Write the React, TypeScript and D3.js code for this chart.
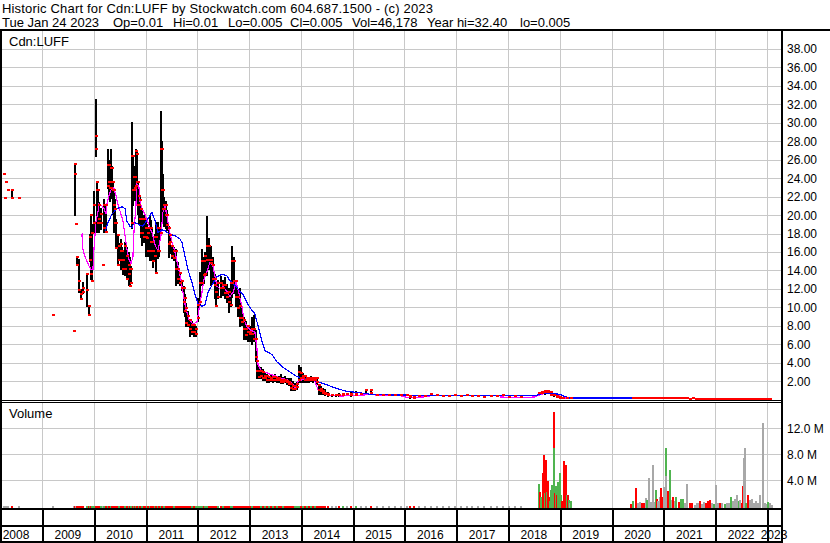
import React from "react";
import * as d3 from "d3";

// ---------- header text ----------
const titleText = "Historic Chart for Cdn:LUFF by Stockwatch.com 604.687.1500 - (c) 2023";
const infoItems = ["Tue Jan 24 2023", "Op=0.01", "Hi=0.01", "Lo=0.005", "Cl=0.005", "Vol=46,178", "Year hi=32.40", "lo=0.005"];
const infoX = [2, 113, 173, 228, 290, 352, 427, 520];
const symbolLabel = "Cdn:LUFF";
const volumeLabel = "Volume";

// ---------- axis ticks ----------
const priceTicks = [2, 4, 6, 8, 10, 12, 14, 16, 18, 20, 22, 24, 26, 28, 30, 32, 34, 36, 38];
const volumeTicks = [4, 8, 12];
const volumeTickLabels = ["4.0 M", "8.0 M", "12.0 M"];
const yearLabels = [2008, 2009, 2010, 2011, 2012, 2013, 2014, 2015, 2016, 2017, 2018, 2019, 2020, 2021, 2022, 2023];

// ---------- price bars (week index since 2008-01-01) ----------
const barWeek = [
  13, 14, 15, 17, 21, 28, 62, 84, 85, 86,
  87, 89, 91, 93, 97, 99, 100, 101, 102, 104,
  106, 107, 108, 109, 111, 113, 114, 116, 118, 119,
  120, 121, 122, 123, 124, 125, 126, 128, 129, 131,
  132, 133, 135, 137, 139, 140, 141, 142, 143, 144,
  145, 146, 147, 148, 149, 150, 151, 152, 154, 156,
  157, 158, 160, 161, 162, 163, 165, 166, 168, 169,
  171, 172, 173, 174, 176, 177, 179, 180, 182, 184,
  186, 188, 190, 192, 194, 195, 196, 198, 200, 202,
  204, 206, 208, 210, 212, 214, 216, 218, 220, 222,
  224, 226, 227, 229, 232, 234, 236, 238, 240, 242,
  243, 245, 247, 249, 251, 253, 255, 257, 259, 261,
  263, 265, 267, 268, 270, 272, 274, 276, 278, 280,
  282, 284, 286, 288, 290, 292, 294, 296, 298, 300,
  302, 304, 306, 308, 310, 312, 314, 316, 318, 320,
  322, 324, 326, 328, 330, 332, 334, 336, 339, 343,
  347, 351, 355, 359, 363, 368, 373, 378, 383, 389,
  395, 401, 407, 413, 419, 422, 426, 431, 437, 443,
  449, 455, 461, 467, 473, 479, 485, 491, 497, 504,
  510, 516, 522, 528, 534, 552, 555, 558, 561, 564,
  567, 570, 573, 576, 580, 584,
];
const barHigh = [
  24.3, 21.7, 23.5, 22.6, 22.6, 21.7, 9.05, 7.3, 25.4, 18.9,
  15.4, 15.2, 12.0, 12.7, 13.6, 10.0, 18.0, 19.9, 19.0, 22.6,
  32.6, 23.5, 22.6, 21.4, 20.8, 14.5, 21.7, 21.2, 27.2, 26.0,
  24.0, 27.2, 25.3, 23.5, 22.8, 21.7, 19.6, 17.7, 17.0, 17.4,
  16.5, 16.0, 17.1, 16.5, 16.0, 15.5, 14.5, 30.1, 26.5, 25.3,
  25.0, 27.2, 26.8, 23.5, 22.8, 22.0, 21.0, 20.5, 20.0, 19.6,
  19.0, 18.5, 20.0, 19.5, 18.5, 17.5, 18.0, 19.2, 19.2, 18.5,
  31.3, 28.0, 24.5, 22.0, 21.5, 20.5, 18.8, 18.0, 16.7, 16.5,
  16.3, 14.9, 13.6, 13.0, 12.3, 11.5, 10.5, 9.6, 8.7, 8.5,
  8.2, 8.0, 11.0, 13.8, 16.3, 15.5, 16.0, 19.9, 17.5, 16.7,
  15.5, 13.6, 12.5, 13.0, 13.4, 13.0, 13.3, 12.5, 12.1, 13.0,
  16.6, 15.5, 13.0, 12.0, 12.1, 10.0, 9.0, 8.5, 8.1, 8.0,
  9.0, 9.2, 7.5, 4.1, 3.5, 3.5, 3.3, 3.0, 2.8, 2.6,
  2.8, 2.7, 2.8, 2.6, 2.6, 2.8, 2.5, 2.6, 2.4, 2.3,
  2.4, 2.0, 1.8, 1.9, 3.8, 3.5, 2.9, 2.6, 2.5, 2.4,
  2.6, 2.5, 2.4, 2.3, 1.6, 1.5, 1.3, 1.2, 0.8, 0.6,
  0.6, 0.7, 0.7, 0.7, 0.9, 0.9, 0.7, 0.9, 0.9, 0.45,
  0.43, 0.43, 0.45, 0.43, 0.43, 0.35, 0.2, 0.3, 0.25, 0.5,
  0.45, 0.3, 0.25, 0.35, 0.3, 0.4, 0.3, 0.25, 0.2, 0.25,
  0.3, 0.35, 0.2, 0.3, 0.15, 0.6, 0.8, 1.1, 0.9, 0.7,
  0.5, 0.3, 0.2, 0.1, 0.08, 0.06,
];
const barLow = [
  24.3, 21.7, 23.5, 22.6, 21.7, 21.7, 9.05, 7.3, 19.9, 18.9,
  14.5, 11.6, 10.8, 11.5, 10.0, 9.05, 14.9, 13.0, 12.7, 18.1,
  26.3, 18.1, 18.1, 18.1, 18.4, 14.5, 18.1, 18.1, 22.8, 22.0,
  21.4, 21.7, 22.5, 20.0, 18.1, 18.1, 16.3, 14.5, 15.0, 14.1,
  14.5, 13.5, 13.4, 13.0, 12.3, 12.2, 12.5, 18.5, 21.0, 22.0,
  21.5, 22.8, 22.5, 20.0, 19.0, 19.2, 17.5, 16.7, 17.0, 15.5,
  16.0, 15.5, 15.0, 15.5, 15.0, 14.3, 15.0, 13.6, 15.2, 15.5,
  17.7, 19.5, 19.0, 18.7, 18.5, 18.3, 15.4, 15.8, 15.2, 15.0,
  12.3, 12.5, 12.3, 11.8, 9.4, 9.0, 7.9, 7.9, 6.8, 7.0,
  6.8, 6.8, 8.4, 10.1, 12.3, 12.5, 13.4, 13.4, 14.0, 12.3,
  12.5, 10.9, 10.0, 10.9, 11.0, 11.2, 10.9, 10.5, 9.4, 10.0,
  11.0, 11.5, 10.0, 9.0, 7.9, 8.0, 6.5, 6.5, 6.2, 6.3,
  5.9, 6.2, 4.1, 2.2, 2.2, 2.2, 2.0, 2.0, 1.8, 1.8,
  1.9, 1.8, 1.9, 1.8, 1.8, 1.7, 1.7, 1.8, 1.6, 1.5,
  0.9, 0.9, 0.9, 1.0, 1.8, 1.8, 1.8, 1.8, 1.8, 1.8,
  1.9, 1.8, 1.9, 1.6, 0.5, 0.5, 0.5, 0.4, 0.3, 0.3,
  0.3, 0.3, 0.4, 0.4, 0.3, 0.4, 0.4, 0.5, 0.5, 0.45,
  0.43, 0.43, 0.45, 0.43, 0.43, 0.1, 0.1, 0.3, 0.25, 0.5,
  0.45, 0.3, 0.25, 0.35, 0.3, 0.4, 0.3, 0.25, 0.2, 0.25,
  0.3, 0.35, 0.2, 0.3, 0.15, 0.6, 0.5, 0.5, 0.6, 0.4,
  0.3, 0.15, 0.1, 0.1, 0.08, 0.06,
];
const barOpen = [
  24.3, 21.7, 23.5, 22.6, 22.6, 21.7, 9.05, 7.3, 25.4, 18.9,
  15.4, 12.7, 11.3, 12.0, 11.8, 10.0, 15.0, 19.9, 12.7, 19.0,
  28.5, 23.5, 22.6, 21.0, 19.0, 14.5, 18.5, 21.0, 23.0, 25.3,
  23.5, 22.8, 25.0, 23.5, 22.6, 20.6, 19.0, 17.7, 15.0, 16.8,
  16.0, 15.0, 14.0, 15.5, 13.5, 14.0, 12.5, 19.0, 26.3, 22.6,
  24.0, 23.0, 26.5, 23.5, 21.0, 21.5, 20.5, 18.0, 19.5, 18.5,
  17.4, 18.0, 16.0, 18.5, 17.0, 16.0, 15.5, 17.5, 16.0, 18.5,
  18.0, 27.0, 22.6, 20.5, 21.0, 19.9, 18.5, 17.7, 16.5, 15.2,
  16.0, 14.0, 13.6, 12.7, 12.0, 10.9, 9.8, 9.0, 8.5, 7.2,
  8.0, 7.0, 8.7, 10.5, 12.5, 14.9, 13.5, 15.0, 16.5, 15.0,
  14.5, 13.0, 11.6, 11.0, 12.5, 12.0, 12.3, 11.5, 11.6, 10.1,
  12.5, 14.9, 12.7, 11.0, 10.0, 8.7, 8.5, 7.6, 7.9, 7.2,
  7.0, 7.6, 6.5, 4.1, 3.0, 2.5, 2.9, 2.2, 2.5, 2.0,
  2.2, 2.0, 2.3, 2.0, 2.2, 2.0, 1.8, 2.0, 1.9, 1.8,
  1.6, 1.4, 1.1, 1.3, 2.0, 2.8, 2.2, 2.5, 2.0, 2.2,
  2.0, 2.2, 2.0, 2.2, 1.5, 1.1, 0.8, 0.6, 0.5, 0.4,
  0.4, 0.45, 0.4, 0.5, 0.5, 0.45, 0.5, 0.9, 0.9, 0.45,
  0.43, 0.43, 0.45, 0.43, 0.43, 0.3, 0.2, 0.3, 0.25, 0.5,
  0.45, 0.3, 0.25, 0.35, 0.3, 0.4, 0.3, 0.25, 0.2, 0.25,
  0.3, 0.35, 0.2, 0.3, 0.15, 0.6, 0.6, 0.7, 0.8, 0.7,
  0.45, 0.3, 0.2, 0.1, 0.08, 0.06,
];
const barClose = [
  24.3, 21.7, 23.5, 22.6, 21.7, 21.7, 9.05, 7.3, 24.3, 18.9,
  14.5, 11.8, 10.8, 11.6, 13.5, 9.05, 17.5, 13.5, 18.0, 21.0,
  27.1, 22.6, 19.0, 19.5, 20.0, 14.5, 21.0, 18.1, 25.3, 23.5,
  22.8, 25.0, 23.5, 22.6, 21.0, 19.0, 16.3, 14.5, 16.5, 16.0,
  15.0, 14.0, 16.5, 13.0, 14.5, 12.2, 14.0, 26.3, 22.6, 24.0,
  22.8, 26.8, 23.5, 21.0, 22.0, 19.5, 18.0, 19.5, 17.5, 17.5,
  18.5, 16.0, 18.5, 17.0, 16.0, 14.9, 17.5, 13.6, 18.5, 16.0,
  27.0, 22.6, 20.5, 21.0, 19.9, 18.8, 16.8, 17.0, 15.5, 16.0,
  14.0, 13.0, 12.5, 12.0, 10.5, 9.5, 8.2, 8.0, 7.5, 8.0,
  7.2, 7.6, 10.1, 12.5, 14.9, 13.4, 15.5, 16.5, 15.0, 14.7,
  13.0, 12.3, 10.0, 12.5, 12.0, 12.3, 11.5, 11.0, 10.5, 12.5,
  14.9, 12.7, 11.0, 9.8, 8.7, 8.3, 7.5, 6.9, 7.2, 7.0,
  7.6, 6.5, 4.5, 3.0, 2.4, 3.0, 2.2, 2.5, 2.0, 2.3,
  2.0, 2.4, 2.0, 2.2, 2.0, 1.8, 2.0, 1.9, 1.8, 1.6,
  1.2, 1.0, 1.4, 1.6, 2.9, 2.2, 2.5, 2.0, 2.2, 2.0,
  2.2, 2.0, 2.2, 1.8, 0.9, 0.8, 0.6, 0.5, 0.4, 0.4,
  0.4, 0.4, 0.5, 0.5, 0.45, 0.5, 0.5, 0.9, 0.6, 0.45,
  0.43, 0.43, 0.45, 0.43, 0.43, 0.15, 0.1, 0.3, 0.25, 0.5,
  0.45, 0.3, 0.25, 0.35, 0.3, 0.4, 0.3, 0.25, 0.2, 0.25,
  0.3, 0.35, 0.2, 0.3, 0.15, 0.6, 0.75, 0.8, 0.7, 0.45,
  0.35, 0.2, 0.12, 0.1, 0.08, 0.06,
];
// volume (millions) traded with each of the bars above
const barVolume = [
  0.05, 0.05, 0.05, 0.05, 0.08, 0.05, 0.05, 0.05, 0.1, 0.05,
  0.08, 0.1, 0.08, 0.06, 0.1, 0.08, 0.1, 0.1, 0.08, 0.1,
  0.12, 0.1, 0.08, 0.06, 0.08, 0.05, 0.08, 0.08, 0.12, 0.1,
  0.08, 0.1, 0.08, 0.06, 0.08, 0.06, 0.1, 0.08, 0.06, 0.06,
  0.05, 0.06, 0.08, 0.06, 0.05, 0.06, 0.05, 0.12, 0.1, 0.08,
  0.06, 0.08, 0.08, 0.06, 0.05, 0.06, 0.08, 0.06, 0.05, 0.06,
  0.05, 0.06, 0.08, 0.06, 0.05, 0.06, 0.05, 0.08, 0.06, 0.05,
  0.12, 0.1, 0.08, 0.06, 0.05, 0.06, 0.08, 0.05, 0.05, 0.06,
  0.08, 0.06, 0.05, 0.06, 0.08, 0.06, 0.08, 0.06, 0.08, 0.06,
  0.05, 0.06, 0.08, 0.1, 0.1, 0.08, 0.06, 0.1, 0.08, 0.06,
  0.06, 0.08, 0.06, 0.05, 0.06, 0.05, 0.06, 0.05, 0.06, 0.08,
  0.1, 0.08, 0.06, 0.06, 0.08, 0.05, 0.06, 0.05, 0.06, 0.05,
  0.06, 0.08, 0.1, 0.1, 0.08, 0.06, 0.06, 0.05, 0.06, 0.05,
  0.05, 0.06, 0.05, 0.05, 0.05, 0.06, 0.05, 0.05, 0.05, 0.06,
  0.08, 0.06, 0.05, 0.05, 0.1, 0.08, 0.06, 0.05, 0.05, 0.05,
  0.05, 0.05, 0.05, 0.05, 0.08, 0.06, 0.05, 0.05, 0.05, 0.05,
  0.05, 0.05, 0.05, 0.05, 0.06, 0.05, 0.05, 0.05, 0.05, 0.04,
  0.04, 0.04, 0.04, 0.04, 0.04, 0.05, 0.04, 0.04, 0.04, 0.04,
  0.04, 0.04, 0.04, 0.04, 0.04, 0.04, 0.04, 0.04, 0.04, 0.04,
  0.04, 0.04, 0.04, 0.04, 0.04, 0, 0, 0, 0, 0,
  0, 0, 0, 0, 0, 0,
];

// ---------- 2020-2023 trades (close only) ----------
const lateWeek = [
  647, 650, 653, 656, 659, 662, 665, 668, 671, 674,
  677, 680, 683, 686, 689, 692, 695, 698, 701, 704,
  707, 710, 713, 716, 719, 722, 725, 728, 731, 734,
  737, 740, 743, 746, 749, 752, 755, 758, 761, 764,
  767, 770, 773, 776, 779, 782, 785,
];
const latePrice = [
  0.06, 0.05, 0.06, 0.05, 0.05, 0.05, 0.04, 0.05, 0.04, 0.04,
  0.04, 0.04, 0.03, 0.04, 0.03, 0.03, 0.03, 0.03, 0.03, 0.02,
  0.03, 0.02, 0.02, 0.02, 0.02, 0.02, 0.02, 0.02, 0.015, 0.015,
  0.02, 0.015, 0.015, 0.01, 0.015, 0.01, 0.01, 0.01, 0.01, 0.01,
  0.01, 0.01, 0.01, 0.005, 0.01, 0.005, 0.005,
];

// ---------- heavy volume periods (millions; u = up, d = down, n = unchanged) ----------
const volWeek = [
  552, 553, 554, 556, 557, 558, 559, 560, 561, 562,
  563, 564, 565, 567, 567, 568, 569, 570, 571, 573,
  574, 575, 577, 579, 580, 581, 582, 583, 584,
  645, 647, 650, 652, 654, 656, 658, 660, 661, 663,
  665, 667, 668, 670, 671, 672, 674, 675, 676, 678,
  680, 680, 682, 684, 686, 687, 689, 690, 693, 695,
  697, 699, 701, 704, 706, 709, 711, 713, 714, 716,
  718, 720, 722, 724, 726, 728, 730, 732, 734, 736,
  739, 741, 743, 745, 747, 749, 751, 753, 755, 757,
  758, 759, 760, 761, 763, 765, 767, 769, 771, 773,
  775, 778, 780, 782, 783, 785, 787,
];
const volValue = [
  3.4, 2.2, 1.5, 5.1, 7.9, 2.0, 7.2, 2.2, 3.9, 1.5,
  0.8, 2.6, 3.3, 14.5, 9.0, 2.0, 3.2, 1.8, 3.8, 5.2,
  1.8, 0.9, 7.0, 6.4, 1.8, 1.8, 1.0, 0.6, 0.9,
  0.45, 0.9, 2.9, 0.6, 0.7, 0.5, 0.5, 1.3, 1.0, 4.3,
  0.7, 6.4, 0.7, 2.5, 1.2, 0.8, 1.5, 2.9, 1.4, 3.0,
  9.0, 4.7, 2.4, 5.6, 1.0, 1.5, 0.8, 1.5, 0.7, 1.2,
  1.2, 0.5, 3.4, 0.5, 0.5, 0.3, 0.5, 0.5, 0.9, 0.4,
  0.7, 0.6, 0.8, 1.0, 0.5, 0.4, 3.3, 0.6, 0.5, 0.6,
  0.4, 0.5, 0.6, 1.5, 0.9, 1.1, 1.8, 0.8, 1.0, 0.6,
  3.2, 7.4, 9.0, 0.6, 1.8, 1.0, 1.1, 0.5, 0.9, 0.6,
  1.8, 12.8, 0.5, 0.4, 0.7, 0.5, 0.3,
];
const volColor = [
  "u", "d", "u", "d", "d", "u", "d", "u", "d", "d",
  "u", "u", "u", "d", "u", "d", "u", "d", "u", "u",
  "u", "d", "d", "d", "u", "d", "u", "n", "u",
  "d", "u", "d", "n", "n", "d", "d", "n", "u", "n",
  "n", "n", "n", "u", "d", "n", "n", "d", "d", "n",
  "u", "n", "d", "u", "n", "d", "n", "u", "d", "u",
  "u", "n", "n", "d", "d", "n", "n", "n", "d", "n",
  "n", "d", "d", "d", "n", "u", "n", "n", "d", "n",
  "u", "n", "n", "u", "n", "n", "n", "u", "n", "d",
  "d", "n", "n", "u", "d", "n", "n", "n", "n", "n",
  "n", "n", "n", "n", "u", "n", "n",
];

// ---------- moving averages ----------
const maShortWeek = [
  92.5, 93.5, 95.5, 97.6, 99.6, 101.6, 103.6, 104.6, 106.6, 108.6,
  109.7, 112.7, 114.7, 116.7, 117.7, 119.7, 122.8, 124.8, 126.8, 128.8,
  131.8, 133.8, 135.9, 137.9, 139.9, 141.9, 143.9, 144.9, 146.9, 147.9,
  150.0, 151.0, 153.0, 156.0, 159.0, 163.1, 166.1, 169.1, 172.1, 174.1,
  176.2, 178.2, 180.2, 183.2, 186.2, 189.3, 192.3, 194.3, 197.3, 200.3,
  204.4, 208.4, 210.4, 213.4, 215.5, 218.5, 221.5, 224.5, 226.5, 228.5,
  231.6, 234.6, 238.6, 241.6, 244.7, 247.7, 249.7, 253.7, 255.8, 258.8,
  261.8, 264.8, 266.8, 268.9, 269.9, 273.9, 278.9, 284.0, 289.0, 294.0,
  299.1, 304.1, 307.1, 310.2, 315.2, 322.3, 327.3, 330.3, 335.4, 342.4,
  352.5, 372.6, 382.7, 392.8, 412.9, 423.0, 443.2, 473.4, 513.7, 533.9,
  549.0, 552.0, 559.0, 566.1, 572.1, 579.2, 586.2,
  646.7, 715.2, 787.8,
];
const maShortValue = [
  18.0, 16.3, 15.5, 15.0, 14.5, 14.1, 14.1, 16.3, 19.2, 20.3,
  21.2, 21.0, 20.7, 20.1, 21.2, 22.1, 23.0, 22.9, 22.1, 21.2,
  20.1, 19.4, 17.8, 16.3, 15.2, 14.7, 15.5, 18.1, 21.0, 23.4,
  23.0, 21.5, 20.7, 20.1, 19.2, 18.1, 16.8, 16.1, 17.8, 20.3,
  21.0, 19.9, 18.5, 17.1, 16.0, 14.5, 13.0, 11.6, 9.8, 8.7,
  8.2, 8.4, 9.8, 11.6, 13.0, 13.9, 14.9, 14.5, 13.4, 12.3,
  12.0, 12.3, 11.7, 11.2, 11.6, 12.7, 12.0, 10.1, 8.7, 7.9,
  7.6, 7.4, 7.3, 5.5, 3.8, 3.0, 2.9, 2.7, 2.5, 2.3,
  2.2, 1.8, 1.3, 2.0, 2.2, 2.2, 2.0, 1.1, 0.8, 0.5,
  0.4, 0.45, 0.6, 0.45, 0.43, 0.2, 0.35, 0.3, 0.3, 0.2,
  0.3, 0.45, 0.72, 0.68, 0.45, 0.18, 0.1,
  0.05, 0.03, 0.01,
];
const maLongWeek = [
  115.7, 118.7, 122.8, 127.8, 132.8, 135.9, 137.9, 140.9, 142.9, 144.9,
  147.9, 151.0, 154.0, 159.0, 163.1, 166.1, 169.1, 173.1, 176.2, 181.2,
  186.2, 191.3, 193.3, 196.3, 199.3, 203.4, 206.4, 209.4, 213.4, 216.5,
  219.5, 223.5, 228.5, 233.6, 238.6, 241.6, 246.7, 249.7, 254.7, 259.8,
  263.8, 266.8, 269.9, 273.9, 276.9, 284.0, 289.0, 295.1, 302.1, 309.2,
  319.2, 329.3, 339.4, 349.5, 359.5, 372.6, 385.7, 412.9, 463.3, 513.7,
  550.0, 553.0, 561.1, 573.2, 579.2, 584.2, 652.7,
];
const maLongValue = [
  18.1, 19.2, 20.1, 20.7, 20.9, 20.7, 19.3, 18.8, 18.6, 19.2,
  19.1, 18.9, 18.8, 19.6, 20.3, 19.4, 18.1, 18.4, 18.3, 17.9,
  17.8, 17.4, 17.0, 15.6, 14.1, 12.7, 11.4, 10.4, 10.1, 10.3,
  11.6, 12.4, 13.3, 13.6, 13.4, 12.9, 12.4, 12.0, 11.4, 10.3,
  9.7, 9.3, 8.0, 6.3, 5.3, 4.9, 4.1, 3.5, 3.0, 2.5,
  2.2, 2.0, 1.6, 1.2, 0.9, 0.75, 0.55, 0.5, 0.48, 0.45,
  0.42, 0.62, 0.65, 0.6, 0.35, 0.18, 0.18,
];

const FONT = '"Liberation Sans", Arial, Helvetica, sans-serif';
const W = 830;
const H = 543;
const PLOT_L = 2;
const PLOT_R = 781;

export default function App() {
  const origin = new Date(2008, 0, 1).getTime();
  const x = d3.scaleTime().domain([new Date(2009, 0, 1), new Date(2023, 0, 1)]).range([42, 767]);
  const wx = (w: number) => x(new Date(origin + w * 7 * 86400000));
  const yP = d3.scaleLinear().domain([0, 38]).range([399.7, 48.9]);
  const yV = d3.scaleLinear().domain([0, 12]).range([506.5, 428.3]);
  const VOL_BASE = 508;

  const gridYears = d3.range(2009, 2024).map((y) => Math.round(x(new Date(y, 0, 1))));

  const bars = barWeek.map((w, i) => ({
    w,
    h: barHigh[i],
    l: barLow[i],
    o: barOpen[i],
    c: barClose[i],
    v: barVolume[i],
  }));

  const lineFor = (ws: number[], vs: number[], gap: number) => {
    const pts = ws.map((w, i) => [w, vs[i]] as [number, number]);
    const segs: [number, number][][] = [];
    let cur: [number, number][] = [];
    pts.forEach((p, i) => {
      if (i > 0 && p[0] - pts[i - 1][0] > gap) {
        segs.push(cur);
        cur = [];
      }
      cur.push(p);
    });
    segs.push(cur);
    const gen = d3.line<[number, number]>().x((d) => wx(d[0])).y((d) => yP(d[1]));
    return segs.map((s) => gen(s) || "").join(" ");
  };
  const magentaPath = lineFor(maShortWeek, maShortValue, 30);
  const bluePath = lineFor(maLongWeek, maLongValue, 1000);

  const colorOf = (code: string) => (code === "u" ? "#50b450" : code === "d" ? "#ff0000" : "#a8a8a8");

  const redMarks: { x: number; y: number }[] = [];
  bars.forEach((b) => {
    const X = Math.round(wx(b.w));
    redMarks.push({ x: X, y: Math.round(yP(b.o)) });
    if (b.c !== b.o) redMarks.push({ x: X, y: Math.round(yP(b.c)) });
  });
  lateWeek.forEach((w, i) => {
    redMarks.push({ x: Math.round(wx(w)), y: Math.round(yP(latePrice[i])) });
  });

  const yearLabelPos = yearLabels.map((y) => {
    const a = x(new Date(y, 0, 1));
    const b = Math.min(x(new Date(y + 1, 0, 1)), PLOT_R);
    return { y, cx: (a + b) / 2 };
  });

  return (
    <svg
      width={W}
      height={H}
      style={{ position: "absolute", left: 0, top: 0, display: "block" }}
      fontFamily={FONT}
    >
      <rect x={0} y={0} width={W} height={H} fill="#ffffff" />
      <defs>
        <clipPath id="clipPrice">
          <rect x={PLOT_L} y={31} width={PLOT_R - PLOT_L} height={369} />
        </clipPath>
        <clipPath id="clipVol">
          <rect x={PLOT_L} y={403} width={PLOT_R - PLOT_L} height={105} />
        </clipPath>
      </defs>

      {/* header */}
      <text x={2} y={13} fontSize={13} textLength={431} lengthAdjust="spacing" fill="#000">
        {titleText}
      </text>
      {infoItems.map((t, i) => (
        <text key={t} x={infoX[i]} y={27} fontSize={13} fill="#000">
          {t}
        </text>
      ))}

      {/* grid */}
      <g stroke="#c8c8c8" strokeWidth={1} shapeRendering="crispEdges">
        {priceTicks.map((v) => (
          <line key={"hp" + v} x1={PLOT_L} x2={PLOT_R} y1={Math.round(yP(v)) + 0.5} y2={Math.round(yP(v)) + 0.5} />
        ))}
        {gridYears.map((gx, i) => (
          <line key={"vp" + i} x1={gx + 0.5} x2={gx + 0.5} y1={31} y2={400} />
        ))}
        {volumeTicks.map((v) => (
          <line key={"hv" + v} x1={PLOT_L} x2={PLOT_R} y1={Math.round(yV(v)) + 0.5} y2={Math.round(yV(v)) + 0.5} />
        ))}
        {gridYears.map((gx, i) => (
          <line key={"vv" + i} x1={gx + 0.5} x2={gx + 0.5} y1={403} y2={508} />
        ))}
      </g>

      {/* price bars */}
      <g clipPath="url(#clipPrice)" shapeRendering="crispEdges">
        {bars.map((b, i) => {
          if (b.h === b.l) return null;
          const X = Math.round(wx(b.w));
          const y1 = Math.round(yP(b.h));
          const y2 = Math.round(yP(b.l));
          return <rect key={"b" + i} x={X} y={y1} width={2} height={Math.max(1, y2 - y1)} fill="#000" />;
        })}
        <path d={magentaPath} fill="none" stroke="#ff00ff" strokeWidth={1.2} />
        <path d={bluePath} fill="none" stroke="#0000ff" strokeWidth={1.2} />
        {redMarks.map((m, i) => (
          <rect key={"r" + i} x={m.x} y={m.y - 2} width={3} height={2} fill="#ff0000" />
        ))}
      </g>

      {/* volume bars */}
      <g clipPath="url(#clipVol)" shapeRendering="crispEdges">
        {bars.map((b, i) => {
          if (!b.v) return null;
          const X = Math.round(wx(b.w));
          const top = Math.min(Math.round(yV(b.v)), VOL_BASE - 2);
          const col = b.c > b.o ? "#50b450" : b.c < b.o ? "#ff0000" : "#a8a8a8";
          return <rect key={"sv" + i} x={X} y={top} width={2} height={VOL_BASE - top} fill={col} />;
        })}
        {volWeek.map((w, i) => {
          const X = Math.round(wx(w));
          const top = Math.round(yV(volValue[i]));
          return <rect key={"v" + i} x={X} y={top} width={2} height={VOL_BASE - top} fill={colorOf(volColor[i])} />;
        })}
      </g>

      {/* panel labels */}
      <text x={9} y={46} fontSize={13} fill="#000">{symbolLabel}</text>
      <text x={9} y={418} fontSize={13} fill="#000">{volumeLabel}</text>

      {/* frame */}
      <g fill="#000" shapeRendering="crispEdges">
        <rect x={0} y={29} width={W} height={2} />
        <rect x={0} y={29} width={2} height={H - 29} />
        <rect x={PLOT_R} y={29} width={2} height={H - 29} />
        <rect x={0} y={400} width={PLOT_R} height={1} />
        <rect x={0} y={402} width={PLOT_R} height={1} />
        <rect x={0} y={508} width={PLOT_R} height={2} />
        <rect x={0} y={525} width={PLOT_R} height={2} />
        <rect x={0} y={541} width={PLOT_R} height={2} />
        {gridYears.map((gx, i) => (
          <rect key={"sep" + i} x={gx} y={510} width={2} height={31} />
        ))}
      </g>

      {/* x-axis labels */}
      {yearLabelPos.map((d) => (
        <text key={"yl" + d.y} x={d.cx} y={539} fontSize={12} textAnchor="middle" fill="#000">
          {d.y}
        </text>
      ))}

      {/* right axis labels */}
      {priceTicks.map((v) => (
        <text key={"pt" + v} x={787} y={yP(v) + 4.5} fontSize={12} fill="#000">
          {v.toFixed(2)}
        </text>
      ))}
      {volumeTicks.map((v, i) => (
        <text key={"vt" + v} x={787} y={yV(v) + 4.5} fontSize={12} fill="#000">
          {volumeTickLabels[i]}
        </text>
      ))}
    </svg>
  );
}
